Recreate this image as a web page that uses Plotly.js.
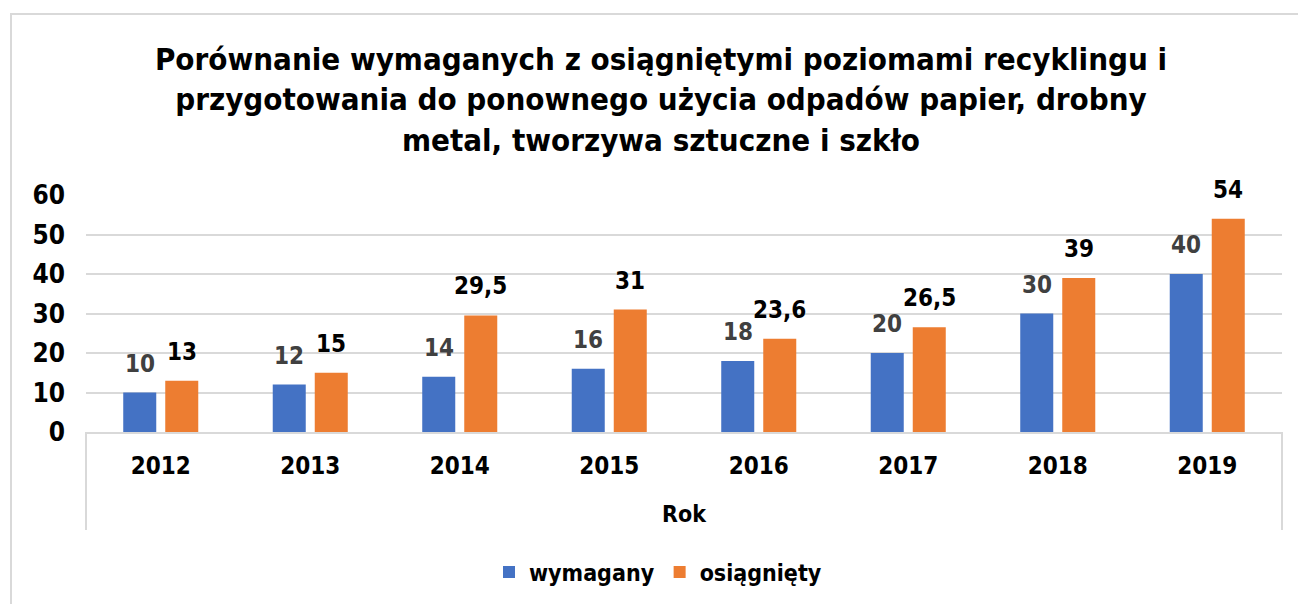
<!DOCTYPE html>
<html>
<head>
<meta charset="utf-8">
<script src="https://cdn.plot.ly/plotly-3.0.1.min.js"></script>
<style>
  html, body { margin: 0; padding: 0; width: 1298px; height: 604px; overflow: hidden; background: #ffffff; }
  #frame { position: absolute; left: 10px; top: 13px; width: 1400px; height: 700px; border: 2px solid #d9d9d9; box-sizing: border-box; }
  #chart { position: absolute; left: 0; top: 0; width: 1298px; height: 604px; }
</style>
</head>
<body>
<div id="frame"></div>
<div id="chart"></div>
<script>
const years = ['2012', '2013', '2014', '2015', '2016', '2017', '2018', '2019'];
const wymagany = [10, 12, 14, 16, 18, 20, 30, 40];
const osiagniety = [13, 15, 29.5, 31, 23.6, 26.5, 39, 54];
const seriesNames = ['wymagany', 'osiągnięty'];
const yTicks = [0, 10, 20, 30, 40, 50, 60];

const FONT = '"DejaVu Sans Condensed", "DejaVu Sans", sans-serif';
const BLUE = '#4472C4';
const ORANGE = '#ED7D31';

const fmt = v => String(v).replace('.', ',');

const traces = [
  { type: 'bar', name: seriesNames[0], x: years, y: wymagany,
    marker: { color: BLUE }, hoverinfo: 'x+y' },
  { type: 'bar', name: seriesNames[1], x: years, y: osiagniety,
    marker: { color: ORANGE }, hoverinfo: 'x+y' }
];

const annotations = [];
years.forEach((yr, i) => {
  annotations.push({ x: i, y: wymagany[i], xref: 'x', yref: 'y', text: fmt(wymagany[i]),
    showarrow: false, xshift: -21, yshift: 13, yanchor: 'bottom',
    font: { family: FONT, size: 24, color: '#404040', weight: 'bold' } });
  annotations.push({ x: i, y: osiagniety[i], xref: 'x', yref: 'y', text: fmt(osiagniety[i]),
    showarrow: false, xshift: 21, yshift: 13, yanchor: 'bottom',
    font: { family: FONT, size: 24, color: '#000000', weight: 'bold' } });
});

const layout = {
  width: 1298, height: 604,
  paper_bgcolor: 'rgba(0,0,0,0)', plot_bgcolor: 'rgba(0,0,0,0)',
  margin: { l: 86, r: 16, t: 195, b: 172 },
  font: { family: FONT, color: '#000000' },
  title: {
    text: 'Porównanie wymaganych z osiągniętymi poziomami recyklingu i<br>przygotowania do ponownego użycia odpadów papier, drobny<br>metal, tworzywa sztuczne i szkło',
    font: { family: FONT, size: 31, color: '#000000', weight: 'bold' },
    x: 661 / 1298, xanchor: 'center', xref: 'container',
    y: 1 - 70 / 604, yanchor: 'top', yref: 'container'
  },
  barmode: 'group', bargap: 0.438, bargroupgap: 0.214,
  xaxis: {
    type: 'category', showgrid: false, zeroline: false,
    showline: true, linecolor: '#d9d9d9', linewidth: 2,
    ticks: '', ticklabelstandoff: 11,
    tickfont: { family: FONT, size: 24, color: '#000000', weight: 'bold' },
    title: { text: 'Rok', standoff: 27, font: { family: FONT, size: 23, color: '#000000', weight: 'bold' } }
  },
  yaxis: {
    range: [0, 60], tickvals: yTicks, ticktext: yTicks.map(String),
    showgrid: true, gridcolor: '#d9d9d9', gridwidth: 2,
    zeroline: false, showline: false, ticks: '', ticklabelstandoff: 20,
    tickfont: { family: FONT, size: 26, color: '#000000', weight: 'bold' }
  },
  showlegend: true,
  legend: {
    orientation: 'h', xref: 'container', yref: 'container',
    x: 658 / 1298, xanchor: 'center', y: 1 - 572 / 604, yanchor: 'middle',
    font: { family: FONT, size: 23, color: '#000000', weight: 'bold' },
    itemwidth: 30, traceorder: 'normal'
  },
  shapes: [
    { type: 'line', xref: 'paper', yref: 'paper', x0: 0, x1: 0, y0: 0, y1: -98 / 237,
      line: { color: '#d9d9d9', width: 2 } },
    { type: 'line', xref: 'paper', yref: 'paper', x0: 1, x1: 1, y0: 0, y1: -98 / 237,
      line: { color: '#d9d9d9', width: 2 } }
  ],
  annotations: annotations
};

Plotly.newPlot('chart', traces, layout, { displayModeBar: false, staticPlot: true });
</script>
</body>
</html>
